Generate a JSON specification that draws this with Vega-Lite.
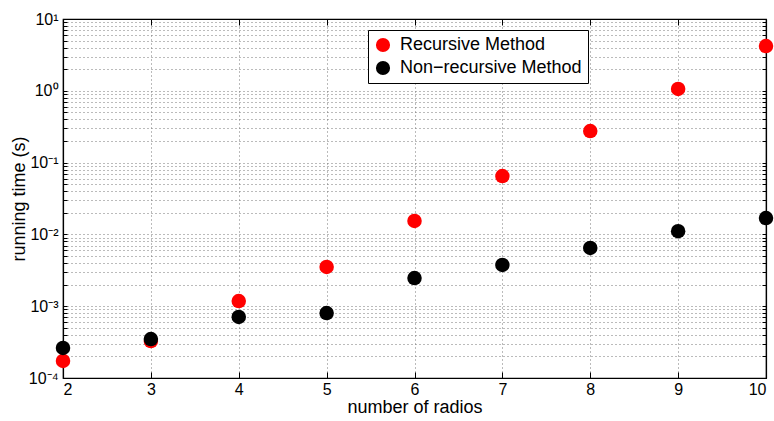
{
  "$schema": "https://vega.github.io/schema/vega-lite/v6.json",
  "width": 703,
  "height": 359,
  "autosize": {"type": "none"},
  "padding": {"left": 63, "top": 19, "right": 8, "bottom": 43},
  "background": "white",
  "config": {
    "font": "Liberation Sans",
    "view": {"stroke": "black", "strokeWidth": 1.2},
    "axis": {
      "domainColor": "black",
      "domainWidth": 1.2,
      "tickColor": "black",
      "labelColor": "black",
      "titleColor": "black",
      "labelFontSize": 16,
      "titleFontSize": 18,
      "titleFontWeight": "normal",
      "labelFont": "Liberation Sans",
      "titleFont": "Liberation Sans",
      "gridColor": "#777",
      "gridDash": [1, 3],
      "gridOpacity": 1,
      "gridWidth": 1
    },
    "legend": {
      "orient": "none",
      "legendX": 305,
      "legendY": 11,
      "padding": 6,
      "strokeColor": "black",
      "fillColor": "white",
      "symbolSize": 200,
      "symbolType": "circle",
      "labelFontSize": 18,
      "labelFont": "Liberation Sans",
      "labelColor": "black",
      "labelLimit": 400,
      "rowPadding": 5,
      "labelOffset": 8
    }
  },
  "data": {
    "values": [
      {"radios": 2, "time": 0.000173, "method": "Recursive Method"},
      {"radios": 3, "time": 0.000327, "method": "Recursive Method"},
      {"radios": 4, "time": 0.00118, "method": "Recursive Method"},
      {"radios": 5, "time": 0.00352, "method": "Recursive Method"},
      {"radios": 6, "time": 0.0154, "method": "Recursive Method"},
      {"radios": 7, "time": 0.065, "method": "Recursive Method"},
      {"radios": 8, "time": 0.275, "method": "Recursive Method"},
      {"radios": 9, "time": 1.06, "method": "Recursive Method"},
      {"radios": 10, "time": 4.2, "method": "Recursive Method"},
      {"radios": 2, "time": 0.000262, "method": "Non-recursive Method"},
      {"radios": 3, "time": 0.000349, "method": "Non-recursive Method"},
      {"radios": 4, "time": 0.000708, "method": "Non-recursive Method"},
      {"radios": 5, "time": 0.000804, "method": "Non-recursive Method"},
      {"radios": 6, "time": 0.00247, "method": "Non-recursive Method"},
      {"radios": 7, "time": 0.00375, "method": "Non-recursive Method"},
      {"radios": 8, "time": 0.00647, "method": "Non-recursive Method"},
      {"radios": 9, "time": 0.0111, "method": "Non-recursive Method"},
      {"radios": 10, "time": 0.0169, "method": "Non-recursive Method"}
    ]
  },
  "layer": [
    {
      "mark": {"type": "point", "filled": true, "size": 210, "opacity": 1},
      "encoding": {
        "x": {
          "field": "radios", "type": "quantitative",
          "scale": {"domain": [2, 10], "nice": false, "zero": false},
          "axis": {
            "title": "number of radios",
            "values": [2, 3, 4, 5, 6, 7, 8, 9, 10],
            "tickSize": -6,
            "labelPadding": 9,
            "titlePadding": 1,
            "grid": true
          }
        },
        "y": {
          "field": "time", "type": "quantitative",
          "scale": {"type": "log", "domain": [0.0001, 10], "nice": false},
          "axis": {
            "title": "running time (s)",
            "values": [0.0001, 0.0002, 0.0003, 0.0004, 0.0005, 0.0006, 0.0007, 0.0008, 0.0009,
                       0.001, 0.002, 0.003, 0.004, 0.005, 0.006, 0.007, 0.008, 0.009,
                       0.01, 0.02, 0.03, 0.04, 0.05, 0.06, 0.07, 0.08, 0.09,
                       0.1, 0.2, 0.3, 0.4, 0.5, 0.6, 0.7, 0.8, 0.9,
                       1, 2, 3, 4, 5, 6, 7, 8, 9, 10],
            "labelExpr": "datum.value == 0.0001 ? '10⁻⁴' : datum.value == 0.001 ? '10⁻³' : datum.value == 0.01 ? '10⁻²' : datum.value == 0.1 ? '10⁻¹' : datum.value == 1 ? '10⁰' : datum.value == 10 ? '10¹' : ''",
            "tickSize": -4,
            "labelPadding": 9,
            "titlePadding": 0,
            "labelOverlap": false,
            "labelFlush": false,
            "grid": true
          }
        },
        "color": {
          "field": "method", "type": "nominal",
          "scale": {"domain": ["Recursive Method", "Non-recursive Method"], "range": ["#ff0000", "#000000"]},
          "legend": {"title": null, "labelExpr": "replace(datum.label, '-', '−')"}
        }
      }
    },
    {
      "mark": {"type": "point", "filled": true, "opacity": 0},
      "encoding": {
        "x": {
          "field": "radios", "type": "quantitative",
          "scale": {"domain": [2, 10], "nice": false, "zero": false},
          "axis": {"orient": "top", "title": null, "labels": false, "values": [2, 3, 4, 5, 6, 7, 8, 9, 10], "tickSize": -6, "grid": false}
        },
        "y": {
          "field": "time", "type": "quantitative",
          "scale": {"type": "log", "domain": [0.0001, 10], "nice": false},
          "axis": {
            "orient": "right", "title": null, "labels": false, "grid": false, "tickSize": -4,
            "values": [0.0001, 0.0002, 0.0003, 0.0004, 0.0005, 0.0006, 0.0007, 0.0008, 0.0009,
                       0.001, 0.002, 0.003, 0.004, 0.005, 0.006, 0.007, 0.008, 0.009,
                       0.01, 0.02, 0.03, 0.04, 0.05, 0.06, 0.07, 0.08, 0.09,
                       0.1, 0.2, 0.3, 0.4, 0.5, 0.6, 0.7, 0.8, 0.9,
                       1, 2, 3, 4, 5, 6, 7, 8, 9, 10]
          }
        }
      }
    }
  ],
  "resolve": {"axis": {"x": "independent", "y": "independent"}}
}
